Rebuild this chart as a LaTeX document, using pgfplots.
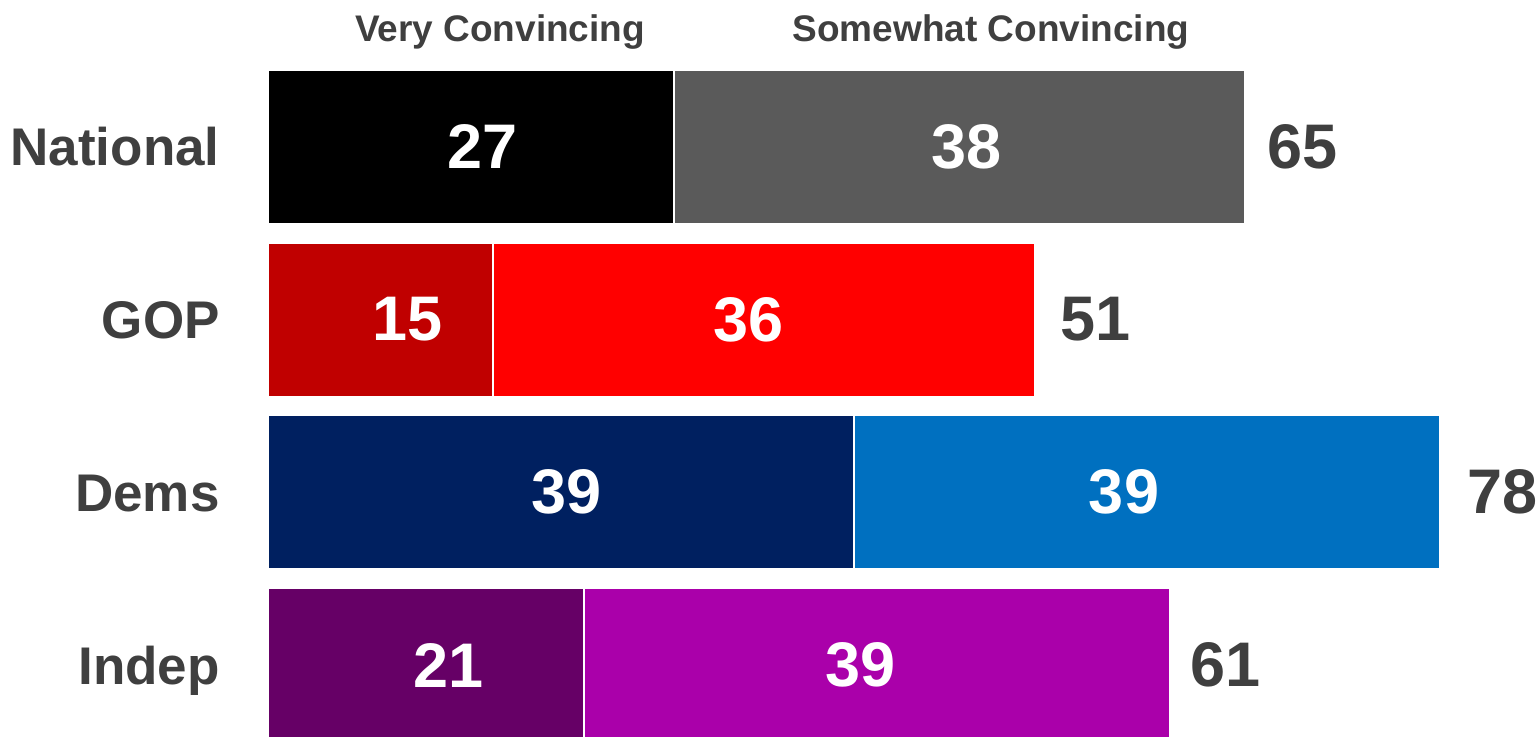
\documentclass[border=0pt]{standalone}
\usepackage{fontspec}
\setmainfont{Liberation Sans}
\usepackage{pgfplots}
\pgfplotsset{compat=1.18}
\definecolor{txt}{HTML}{3F3F3F}
\definecolor{natA}{HTML}{000000}
\definecolor{natB}{HTML}{5A5A5A}
\definecolor{gopA}{HTML}{C00000}
\definecolor{gopB}{HTML}{FF0000}
\definecolor{demA}{HTML}{002060}
\definecolor{demB}{HTML}{0070C0}
\definecolor{indA}{HTML}{660066}
\definecolor{indB}{HTML}{AA00AA}
\begin{document}
\begin{tikzpicture}
\path[use as bounding box] (0,0) rectangle (769.5pt,368pt);
\pgfplotsset{myax/.style={at={(134pt,0pt)}, anchor=south west, scale only axis,
  width=635.5pt, height=368pt, xmin=0, xmax=84.56, ymin=-0.411, ymax=3.85,
  enlargelimits=false}}
\begin{axis}[myax, xbar stacked, bar width=0.892,
  axis line style={draw=none}, xtick=\empty, ytick={0,1,2,3},
  yticklabels={Indep,Dems,GOP,National}, major tick length=0pt,
  yticklabel style={font=\fontsize{26.5}{30}\selectfont\bfseries, text=txt,
    anchor=base east, inner sep=0pt, xshift=-24pt, yshift=-9.5pt},
  every axis plot/.append style={draw=white, line width=1pt}]
% Very Convincing
\addplot[fill=natA, draw=white] coordinates {(27,3) (0,2) (0,1) (0,0)};
\addplot[fill=gopA, draw=white] coordinates {(0,3) (15,2) (0,1) (0,0)};
\addplot[fill=demA, draw=white] coordinates {(0,3) (0,2) (39,1) (0,0)};
\addplot[fill=indA, draw=white] coordinates {(0,3) (0,2) (0,1) (21,0)};
% Somewhat Convincing
\addplot[fill=natB, draw=white] coordinates {(38,3) (0,2) (0,1) (0,0)};
\addplot[fill=gopB, draw=white] coordinates {(0,3) (36,2) (0,1) (0,0)};
\addplot[fill=demB, draw=white] coordinates {(0,3) (0,2) (39,1) (0,0)};
\addplot[fill=indB, draw=white] coordinates {(0,3) (0,2) (0,1) (39,0)};
\end{axis}
\begin{axis}[myax, hide axis, clip=false]
% segment values
\addplot[draw=none, nodes near coords, point meta=explicit symbolic,
  every node near coord/.style={anchor=center, inner sep=0pt, text=white,
    font=\fontsize{31.5}{36}\selectfont\bfseries}]
  coordinates {(14.24,3)[27] (46.5,3)[38] (9.25,2)[15] (32.0,2)[36]
               (19.83,1)[39] (56.95,1)[39] (11.98,0)[21] (39.45,0)[39]};
% totals
\addplot[draw=none, nodes near coords, point meta=explicit symbolic,
  every node near coord/.style={anchor=west, inner sep=0pt, text=txt,
    font=\fontsize{31.5}{36}\selectfont\bfseries}]
  coordinates {(66.47,3)[65] (52.7,2)[51] (79.77,1)[78] (61.35,0)[61]};
% headers
\addplot[draw=none, nodes near coords, point meta=explicit symbolic,
  every node near coord/.style={anchor=base, inner sep=0pt, text=txt,
    font=\fontsize{18.5}{22}\selectfont\bfseries}]
  coordinates {(15.44,3.607)[Very Convincing] (48.1,3.607)[Somewhat Convincing]};
\end{axis}
\end{tikzpicture}
\end{document}
